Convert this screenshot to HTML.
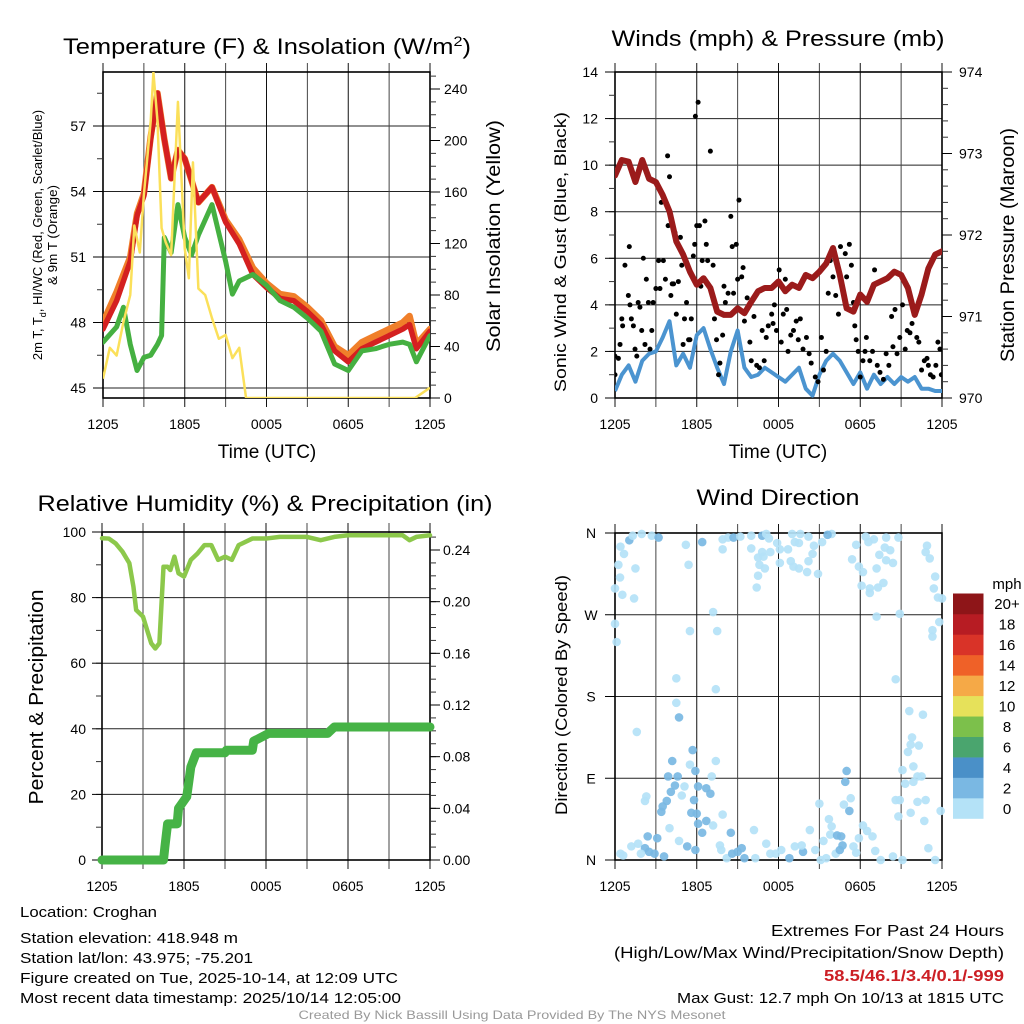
<!DOCTYPE html>
<html><head><meta charset="utf-8"><title>Croghan Mesonet Meteogram</title>
<style>
html,body{margin:0;padding:0;background:#fff;}
svg{display:block;font-family:"Liberation Sans",sans-serif;}
</style></head>
<body>
<svg id="fig" width="1024" height="1024" viewBox="0 0 1024 1024" xmlns="http://www.w3.org/2000/svg">
<rect x="0" y="0" width="1024" height="1024" fill="#fff"/>
<g id="layer"></g>
</svg>
<script>
// ---------- DATA ----------
const timeTickLabels = ["1205","1805","0005","0605","1205"];
const tempTickLabels = [45,48,51,54,57];
const solarTickLabels = [0,40,80,120,160,200,240];
const windTickLabels = [0,2,4,6,8,10,12,14];
const presTickLabels = [970,971,972,973,974];
const rhTickLabels = [0,20,40,60,80,100];
const precipTickLabels = ["0.00","0.04","0.08","0.12","0.16","0.20","0.24"];
const dirTickLabels = ["N","E","S","W","N"];
const speedBinLabels = ["0","2","4","6","8","10","12","14","16","18","20+"];
const speedBinColors = ["#b4e2f7","#7ab8e3","#4a90c8","#4aa56e","#7cc04b","#e6e15a","#f5a947","#ef6128","#d93328","#b71c23","#8e1518"];

const redHours = [0,1,2,2.5,3,3.5,4,4.5,5,5.5,6,7,8,9,10,11,12,13,14,15,16,17,18,19,20,21,22,22.5,23,24];
const tempRed = [47.7,49.0,50.8,52.9,53.8,56.4,58.5,56.4,54.6,55.9,55.5,53.5,54.2,52.6,51.6,50.2,49.6,49.1,49.0,48.5,47.9,46.7,46.2,46.8,47.1,47.4,47.7,47.9,46.8,47.6];
const tempOrange = [48.0,49.4,51.0,53.0,53.9,56.5,58.5,56.4,54.6,55.9,55.5,53.5,54.2,52.7,51.8,50.5,49.8,49.3,49.2,48.7,48.1,46.9,46.5,47.1,47.4,47.7,48.0,48.3,47.0,47.7];
const greenHours = [0,1,1.5,2,2.5,3,3.5,4,4.3,4.5,5,5.5,6,6.5,7,8,9,9.5,10,11,12,13,14,15,16,17,18,19,20,21,22,22.5,23,24];
const tempGreen = [47.1,47.8,48.7,47.0,45.8,46.4,46.5,47.0,47.4,51.9,51.2,53.4,51.9,51.1,52.0,53.4,50.8,49.3,49.9,50.2,49.7,49.0,48.7,48.2,47.6,46.1,45.8,46.7,46.8,47.0,47.1,47.0,46.2,47.4];
const solarHours = [0,0.5,1,1.5,2,2.3,2.7,3,3.5,3.7,4,4.3,4.6,5,5.5,6,6.3,6.6,7,7.5,8,8.5,9,9.5,10,10.5,22.9,24];
const solarVals = [15,39,33,59,80,134,113,158,215,253,215,132,121,111,230,116,93,183,85,80,62,46,49,31,39,0,0,8];

const presVals = [972.73,972.92,972.90,972.65,972.92,972.69,972.65,972.49,972.29,971.92,971.76,971.55,971.39,971.47,971.35,971.06,971.02,971.02,971.10,971.04,971.18,971.31,971.35,971.35,971.43,971.31,971.39,971.35,971.51,971.47,971.55,971.65,971.84,971.51,971.10,971.06,971.27,971.18,971.39,971.43,971.47,971.55,971.51,971.35,971.02,971.27,971.59,971.76,971.80];
const windVals = [0.3,1.0,1.4,0.7,1.6,1.9,2.0,2.6,3.3,1.4,1.9,1.3,2.7,3.0,2.1,1.3,0.6,2.0,2.9,1.3,0.9,1.0,1.3,1.1,0.9,0.7,1.0,1.3,0.4,0.1,1.0,1.6,1.9,1.6,1.1,0.6,1.1,0.4,1.0,0.6,0.9,0.6,0.9,0.7,0.9,0.4,0.4,0.3,0.3];
const gustHours = [0,0,0.25,0.37,0.5,0.56,0.73,0.98,1.05,1.1,1.2,1.35,1.47,1.6,1.7,1.83,1.96,2.08,2.2,2.3,2.45,2.57,2.7,2.8,3.0,3.2,3.3,3.4,3.55,3.7,3.86,3.9,4.0,4.1,4.2,4.3,4.4,4.5,4.65,4.8,4.9,5.0,5.1,5.25,5.4,5.5,5.6,5.75,5.85,5.9,6.0,6.1,6.2,6.3,6.4,6.6,6.7,6.8,7.0,7.2,7.3,7.45,7.6,7.7,7.9,8.0,8.1,8.3,8.5,8.6,8.7,8.9,9.0,9.1,9.3,9.4,9.5,9.7,9.9,10.0,10.2,10.4,10.6,10.8,10.95,11.1,11.25,11.5,11.6,11.7,11.85,12.05,12.2,12.35,12.5,12.6,12.7,12.9,13.1,13.3,13.45,13.6,13.8,14.05,14.25,14.4,14.7,14.9,15.15,15.3,15.5,15.65,15.8,16.0,16.2,16.4,16.55,16.9,17.0,17.2,17.35,17.5,17.6,17.7,17.85,18.0,18.2,18.35,18.45,18.7,18.9,19.05,19.25,19.45,19.7,19.9,20.1,20.3,20.4,20.55,20.7,20.9,21.1,21.3,21.45,21.65,21.8,21.9,22.15,22.3,22.5,22.7,22.9,23.0,23.15,23.35,23.55,23.7,23.85,23.95];
const gustVals = [1.8,1.0,1.7,2.3,3.4,3.1,5.7,4.4,6.5,4.0,3.4,3.1,2.1,1.8,4.1,3.9,2.9,6.0,2.3,5.1,4.1,2.1,2.9,4.1,4.7,5.9,4.7,8.4,5.9,5.1,10.4,7.4,9.5,4.4,4.9,4.9,7.1,3.6,5.0,6.9,5.7,2.3,3.4,4.1,2.5,2.5,3.4,6.1,6.6,12.1,7.4,12.7,7.4,4.8,5.9,7.6,6.6,5.9,10.6,5.7,3.4,2.5,1.0,1.5,2.7,4.8,4.1,4.5,7.8,6.5,4.5,6.6,5.1,8.5,5.2,5.6,3.3,4.3,2.4,1.6,3.5,1.4,1.3,2.9,1.6,2.6,3.1,3.6,3.2,4.0,2.9,5.5,2.4,3.6,5.1,3.8,2.0,2.7,2.9,3.3,2.5,3.4,2.1,2.6,1.9,1.5,0.9,0.7,2.6,1.2,2.0,4.5,5.9,5.2,4.4,3.6,6.5,6.2,5.2,6.6,5.7,4.1,3.1,2.5,2.0,0.9,1.6,2.0,2.6,1.6,2.0,5.5,1.4,1.1,0.8,1.9,1.4,3.5,2.2,3.8,1.9,2.6,4.0,2.1,2.9,2.8,3.2,3.9,2.6,2.4,1.2,1.6,1.7,1.4,1.0,0.9,1.4,2.4,2.1,1.0];

const rhHours = [0,0.5,1,1.5,2,2.3,2.5,3,3.3,3.6,3.9,4.2,4.5,4.8,5,5.3,5.6,6,6.5,7,7.5,8,8.5,9,9.5,10,11,12,13,14,15,16,17,18,19,20,21,22,22.5,23,24];
const rhVals = [98.1,98,96.5,94,90.5,83.3,76.2,74.2,70.1,66.1,64.5,66.1,89.4,89.4,88.4,92.5,87.4,86.4,91.5,93.5,96,96,91.5,92.5,91.5,96,98,98,98.5,98.5,98.5,97.5,98.5,99,99,99,99,99,97.5,98.5,99];
const precipHours = [0,4.5,4.6,4.8,5.5,5.6,6.2,6.5,6.9,9,9.1,11,11.1,12.2,16.5,17,24];
const precipVals = [0,0,0.010,0.028,0.028,0.040,0.049,0.072,0.083,0.083,0.085,0.085,0.092,0.098,0.098,0.103,0.103];

const dirHours = [0.25,0.37,0,0.54,0,0.12,0.4,0.66,1.05,1.3,1.96,1.5,1.4,2.7,3.2,5.2,6.4,5.4,7.2,5.5,7.5,4.5,7.4,4.5,4.7,1.6,5.7,4.2,5.5,7.4,5.9,3.9,4.6,5.1,4.4,6.1,6.7,7.0,4.1,4.9,5.8,2.3,2.2,3.8,3.5,3.4,5.6,6.0,6.7,7.1,7.9,4.0,6.1,6.4,7.2,2.4,3.1,4.7,5.3,5.9,1.2,1.7,2.2,2.5,2.9,3.6,0.4,0.6,1.9,7.7,7.8,8.2,8.5,8.6,9.0,9.3,9.5,10.3,10.2,11.1,11.4,11.8,12.2,12.8,13.2,13.8,13.7,14.3,14.7,15.0,15.1,15.3,15.5,15.7,15.9,15.8,16.2,16.3,16.6,16.5,16.7,17.0,16.9,17.2,16.8,17.3,17.5,17.7,17.9,18.2,18.5,18.9,19.1,19.5,20.4,21.1,20.6,20.9,20.8,21.7,22.2,22.7,22.8,23.0,23.5,23.9,21.1,21.3,21.9,21.9,22.2,22.5,21.5,21.8,21.7,22.3,21.6,22.6,20.6,20.9,23.3,23.3,23.8,24.0,23.7,23.4,23.5,23.1,22.8,22.9,7.9,8.3,8.7,9.2,10.0,10.8,11.1,11.3,11.9,13.0,13.6,14.2,13.2,13.5,14.6,15.2,15.9,15.6,10.0,10.8,11.4,12.1,12.7,10.5,10.9,10.6,11.0,12.1,12.9,14.2,14.5,13.1,13.5,14.1,14.9,10.5,10.4,7.9,18.4,19.0,19.9,20.8,17.7,18.6,19.8,19.4,20.2,19.9,20.4,17.4,17.9,18.2,19.2,18.1,18.7,18.7,19.3,19.7,19.2];
const dirDeg = [325,311,299,292,260,240,345,337,352,357,359,321,288,357,355,347,350,325,273,252,252,200,188,173,157,141,121,109,105,109,98,92,92,81,82,81,79,73,75,71,66,70,65,65,59,53,52,51,43,92,50,35,40,30,38,26,24,21,15,11,15,18,13,9,7,4,7,5,7,16,11,2,30,7,9,13,2,2,33,18,7,7,11,2,15,9,16,33,11,62,0,21,2,45,37,28,7,27,26,11,16,98,86,54,61,68,15,8,24,38,32,26,10,0,4,0,66,66,48,52,64,43,66,13,0,54,99,84,86,103,92,92,119,135,127,126,164,160,199,271,246,253,262,288,289,299,312,332,339,346,353,355,355,356,357,357,359,354,349,359,359,356,350,349,346,350,359,358,343,339,339,342,342,333,334,325,321,327,329,329,337,323,321,317,315,313,300,342,356,353,355,355,347,350,344,336,341,330,327,331,323,317,321,302,299,294,300,305,268];
const dirSpd = [1,1,1,1,1,1,1,1,3,1,1,1,1,1,3,1,3,1,1,1,1,1,1,1,3,1,3,3,1,1,3,3,3,1,3,3,3,3,3,1,3,1,1,3,3,3,3,3,3,1,1,1,3,3,1,3,3,1,3,3,1,1,3,3,3,3,1,1,1,1,1,1,3,3,3,3,3,1,1,1,1,1,1,3,1,3,1,1,1,1,1,1,1,1,1,1,1,3,3,3,3,3,3,3,1,1,1,1,1,1,1,1,1,1,1,1,1,1,1,1,1,1,1,1,1,1,1,1,1,1,1,1,1,1,1,1,1,1,1,1,1,1,1,1,1,1,1,1,1,1,1,1,3,1,1,3,1,1,1,1,1,1,1,1,1,1,1,3,1,1,1,1,1,1,1,1,1,1,1,1,1,1,1,1,1,1,1,1,1,1,1,1,1,1,1,1,1,1,1,1,1,1,1,1,1,1,1,1,1,1,1,1,1];

// ---------- HELPERS ----------
const NS = "http://www.w3.org/2000/svg";
const layer = document.getElementById("layer");
function mk(tag, attrs, parent) {
  const e = document.createElementNS(NS, tag);
  for (const k in attrs) e.setAttribute(k, attrs[k]);
  (parent || layer).appendChild(e);
  return e;
}
function txt(str, x, y, size, anchor, parent, extra) {
  const e = mk("text", Object.assign({x: x, y: y, "font-size": size, "text-anchor": anchor || "start", fill: "#000"}, extra || {}), parent);
  e.textContent = str;
  return e;
}
function linear(d0, d1, r0, r1) { return v => r0 + (v - d0) * (r1 - r0) / (d1 - d0); }
function pathFrom(xs, ys, sx, sy) {
  let d = "";
  for (let i = 0; i < xs.length; i++) d += (i ? "L" : "M") + sx(xs[i]).toFixed(2) + "," + sy(ys[i]).toFixed(2);
  return d;
}
function stepPath(xs, ys, sx, sy) {
  let d = "M" + sx(xs[0]) + "," + sy(ys[0]);
  for (let i = 1; i < xs.length; i++) d += "L" + sx(xs[i]).toFixed(2) + "," + sy(ys[i]).toFixed(2);
  return d;
}

function drawFrame(g, L, T, R, B, sy, leftTicks, leftMinorStep, leftMin, leftMax, gridVals) {
  const sx = linear(0, 24, L, R);
  // horizontal grid
  gridVals.forEach(v => {
    const gl = mk("line", {x1: L, x2: R, y1: sy(v), y2: sy(v), stroke: "#222", "stroke-width": 1}, g);
    
    
  });
  // vertical grid every 3 h + outward ticks
  for (let h = 0; h <= 24; h += 3) {
    const x = sx(h);
    const vl = mk("line", {x1: x, x2: x, y1: T - 9, y2: B + 9, stroke: (h % 6 === 0) ? "#111" : "#444", "stroke-width": 1}, g);
    
    
  }
  const box = mk("rect", {x: L, y: T, width: R - L, height: B - T, fill: "none", stroke: "#000", "stroke-width": 1.6}, g);
  
  
  // left minor ticks
  if (leftMinorStep) {
    for (let v = leftMin; v <= leftMax + 1e-9; v += leftMinorStep) {
      const y = sy(v);
      if (y < T - 0.5 || y > B + 0.5) continue;
      const t = mk("line", {x1: L - 6, x2: L, y1: y, y2: y, stroke: "#333", "stroke-width": 1}, g);
      
      
    }
  }
  leftTicks.forEach(v => {
    const t = mk("line", {x1: L - 10, x2: L, y1: sy(v), y2: sy(v), stroke: "#000", "stroke-width": 1}, g);
    
    
  });
  // time tick labels
  timeTickLabels.forEach((lab, i) => {
    const t = txt(lab, sx(i * 6), B + 31, 14, "middle", g);
    
    
  });
  return sx;
}
function rightTicks(g, R, T, B, sy, majors, minorStep, min, max, labels, lx, size) {
  for (let v = min; v <= max + 1e-9; v += minorStep) {
    const y = sy(v);
    if (y < T - 0.5 || y > B + 0.5) continue;
    const t = mk("line", {x1: R, x2: R + 6, y1: y, y2: y, stroke: "#333", "stroke-width": 1}, g);
    
    
  }
  majors.forEach((v, i) => {
    const y = sy(v);
    const t = mk("line", {x1: R, x2: R + 10, y1: y, y2: y, stroke: "#000", "stroke-width": 1}, g);
    
    
    const l = txt(labels[i], lx, y + 5, size || 14, "start", g);
    
    
  });
}
function vlabel(str, x, y, size, len, g) {
  const e = mk("text", {x: 0, y: 0, "font-size": size, "text-anchor": "middle", transform: `translate(${x},${y}) rotate(-90)`, textLength: len, lengthAdjust: "spacingAndGlyphs"}, g);
  e.textContent = str;
  return e;
}

// ---------- PANEL 1: TEMPERATURE ----------
{
  const g = mk("g", {});
  
  
  const L = 103, T = 72, R = 430, B = 398;
  const sy = linear(45, 57, 388, 126);
  const ss = linear(0, 240, 398, 89);
  const sx = drawFrame(g, L, T, R, B, sy, tempTickLabels, 1.5, 43.5, 60, tempTickLabels);
  tempTickLabels.forEach(v => {
    const t = txt(String(v), 86, sy(v) + 5, 14, "end", g);
    
    
  });
  rightTicks(g, R, T, B, ss, solarTickLabels, 10, 0, 250, solarTickLabels.map(String), 444);
  const clip = mk("clipPath", {id: "c1"}, g);
  mk("rect", {x: L, y: T, width: R - L, height: B - T}, clip);
  const dg = mk("g", {"clip-path": "url(#c1)"}, g);
  const p1 = mk("path", {d: pathFrom(redHours, tempOrange, sx, sy), fill: "none", stroke: "#f07f2a", "stroke-width": 6.5, "stroke-linejoin": "round", "stroke-linecap": "round"}, dg);
  
  
  const p2 = mk("path", {d: pathFrom(redHours, tempRed, sx, sy), fill: "none", stroke: "#d42020", "stroke-width": 5.5, "stroke-linejoin": "round", "stroke-linecap": "round"}, dg);
  
  
  const p3 = mk("path", {d: pathFrom(greenHours, tempGreen, sx, sy), fill: "none", stroke: "#45b041", "stroke-width": 5, "stroke-linejoin": "round", "stroke-linecap": "round"}, dg);
  
  
  const p4 = mk("path", {d: pathFrom(solarHours, solarVals, sx, ss), fill: "none", stroke: "#fbe05a", "stroke-width": 2.5, "stroke-linejoin": "round"}, dg);
  
  
  const t1 = mk("text", {x: 267, y: 54, "font-size": 22, "text-anchor": "middle", textLength: 408, lengthAdjust: "spacingAndGlyphs"}, g);
  t1.innerHTML = 'Temperature (F) &amp; Insolation (W/m<tspan dy="-8" font-size="14">2</tspan><tspan dy="8">)</tspan>';
  
  
  const y1 = mk("text", {x: 0, y: 0, "font-size": 13, "text-anchor": "middle", transform: "translate(42,235) rotate(-90)"}, g);
  y1.innerHTML = '2m T, T<tspan dy="4" font-size="9">d</tspan><tspan dy="-4">, HI/WC (Red, Green, Scarlet/Blue)</tspan>';
  
  
  const y2 = vlabel("& 9m T (Orange)", 57, 235, 13, 100, g);
  
  
  const y3 = vlabel("Solar Insolation (Yellow)", 500, 236, 19, 232, g);
  
  
  const xt = txt("Time (UTC)", 267, 458, 19, "middle", g);
  
  
}

// ---------- PANEL 2: WINDS & PRESSURE ----------
{
  const g = mk("g", {});
  
  
  const L = 615, T = 72, R = 942, B = 398;
  const sy = linear(0, 14, 398, 72);
  const sp = linear(970, 974, 398, 72);
  const sx = drawFrame(g, L, T, R, B, sy, windTickLabels, 1, 0, 14, windTickLabels);
  windTickLabels.forEach(v => {
    const t = txt(String(v), 598, sy(v) + 5, 14, "end", g);
    
    
  });
  rightTicks(g, R, T, B, sp, presTickLabels, 0.2, 970, 974, presTickLabels.map(String), 959);
  const clip = mk("clipPath", {id: "c2"}, g);
  mk("rect", {x: L, y: T, width: R - L, height: B - T}, clip);
  const dg = mk("g", {"clip-path": "url(#c2)"}, g);
  const halfHours = presVals.map((_, i) => i * 0.5);
  const wl = mk("path", {d: pathFrom(halfHours, windVals, sx, sy), fill: "none", stroke: "#4b94d0", "stroke-width": 4, "stroke-linejoin": "round"}, dg);
  
  
  gustHours.forEach((h, i) => {
    const c = mk("circle", {cx: sx(h), cy: sy(gustVals[i]), r: 2.5, fill: "#000"}, dg);
    
    
  });
  const pl = mk("path", {d: pathFrom(halfHours, presVals, sx, sp), fill: "none", stroke: "#9b1b1b", "stroke-width": 6, "stroke-linejoin": "round", "stroke-linecap": "round"}, dg);
  
  
  const t1 = txt("Winds (mph) & Pressure (mb)", 778, 46, 22, "middle", g, {textLength: 333, lengthAdjust: "spacingAndGlyphs"});
  
  
  const y1 = vlabel("Sonic Wind & Gust (Blue, Black)", 566, 252, 17, 280, g);
  
  
  const y2 = vlabel("Station Pressure (Maroon)", 1014, 245, 19, 234, g);
  
  
  const xt = txt("Time (UTC)", 778, 458, 19, "middle", g);
  
  
}

// ---------- PANEL 3: RH & PRECIP ----------
{
  const g = mk("g", {});
  
  
  const L = 102, T = 532, R = 430, B = 860;
  const sy = linear(0, 100, 860, 532);
  const sp = linear(0, 0.24, 860, 550);
  const sx = drawFrame(g, L, T, R, B, sy, rhTickLabels, 10, 0, 100, rhTickLabels);
  rhTickLabels.forEach(v => {
    const t = txt(String(v), 86, sy(v) + 5, 14, "end", g);
    
    
  });
  rightTicks(g, R, T, B, sp, precipTickLabels.map(Number), 0.01, 0, 0.25, precipTickLabels, 443);
  const pl = mk("path", {d: stepPath(precipHours, precipVals, sx, sp), fill: "none", stroke: "#46b346", "stroke-width": 9, "stroke-linejoin": "round", "stroke-linecap": "round"}, g);
  
  
  const rl = mk("path", {d: pathFrom(rhHours, rhVals, sx, sy), fill: "none", stroke: "#8cc84b", "stroke-width": 4.5, "stroke-linejoin": "round", "stroke-linecap": "round"}, g);
  
  
  const t1 = txt("Relative Humidity (%) & Precipitation (in)", 265, 511, 22, "middle", g, {textLength: 455, lengthAdjust: "spacingAndGlyphs"});
  
  
  const y1 = vlabel("Percent & Precipitation", 43, 697, 20, 215, g);
  
  
}

// ---------- PANEL 4: WIND DIRECTION ----------
{
  const g = mk("g", {});
  
  
  const L = 615, T = 533, R = 942, B = 860;
  const sy = linear(0, 360, 860, 533);
  const dirTickVals = [0, 90, 180, 270, 360];
  const sx = drawFrame(g, L, T, R, B, sy, dirTickVals, 0, 0, 0, dirTickVals);
  dirTickVals.forEach((v, i) => {
    const t = txt(dirTickLabels[i], 591, sy(v) + 5, 14, "middle", g);
    
    
  });
  dirHours.forEach((h, i) => {
    const bin = Math.min(10, Math.floor(dirSpd[i] / 2));
    const c = mk("circle", {cx: sx(h), cy: sy(dirDeg[i]), r: 4.3, fill: speedBinColors[bin], "fill-opacity": 0.92}, g);
    
    
  });
  const t1 = txt("Wind Direction", 778, 505, 22, "middle", g, {textLength: 163, lengthAdjust: "spacingAndGlyphs"});
  
  
  const y1 = vlabel("Direction (Colored By Speed)", 567, 695, 17, 240, g);
  
  
  // colorbar
  const cb = mk("g", {}, g);
  
  
  const cbTop = 593.5, cbBot = 818.5, cbH = (cbBot - cbTop) / speedBinColors.length;
  speedBinColors.forEach((col, i) => {
    const y = cbBot - (i + 1) * cbH;
    const r = mk("rect", {x: 953, y: y, width: 30.5, height: cbH + 0.3, fill: col}, cb);
    
    
    const l = txt(speedBinLabels[i], 1007, y + cbH / 2 + 5.5, 15, "middle", cb);
    
    
  });
  const u = txt("mph", 1007, 589, 15, "middle", cb);
  
  
}

// ---------- FOOTER TEXT ----------
{
  const g = mk("g", {});
  
  
  const infoLines = [
    ["Location: Croghan", 917, 137],
    ["Station elevation: 418.948 m", 943, 218],
    ["Station lat/lon: 43.975; -75.201", 963, 233],
    ["Figure created on Tue, 2025-10-14, at 12:09 UTC", 983, 378],
    ["Most recent data timestamp: 2025/10/14 12:05:00", 1003, 381]
  ];
  infoLines.forEach(([s, y, w]) => {
    const t = txt(s, 20, y, 15, "start", g, {textLength: w, lengthAdjust: "spacingAndGlyphs"});
    
    
  });
  const ex = mk("g", {});
  
  
  const a = txt("Extremes For Past 24 Hours", 1004, 936, 16, "end", ex, {textLength: 233, lengthAdjust: "spacingAndGlyphs"});
  
  
  const b = txt("(High/Low/Max Wind/Precipitation/Snow Depth)", 1004, 958, 16, "end", ex, {textLength: 390, lengthAdjust: "spacingAndGlyphs"});
  
  
  const c = txt("58.5/46.1/3.4/0.1/-999", 1004, 981, 16, "end", ex, {fill: "#cc1f25", "font-weight": "bold", textLength: 180, lengthAdjust: "spacingAndGlyphs"});
  
  
  const d = txt("Max Gust: 12.7 mph On 10/13 at 1815 UTC", 1004, 1003, 15, "end", ex, {textLength: 327, lengthAdjust: "spacingAndGlyphs"});
  
  
  const cr = txt("Created By Nick Bassill Using Data Provided By The NYS Mesonet", 512, 1019, 12, "middle", g, {fill: "#999", textLength: 427, lengthAdjust: "spacingAndGlyphs"});
  
  
}
</script>
</body></html>
